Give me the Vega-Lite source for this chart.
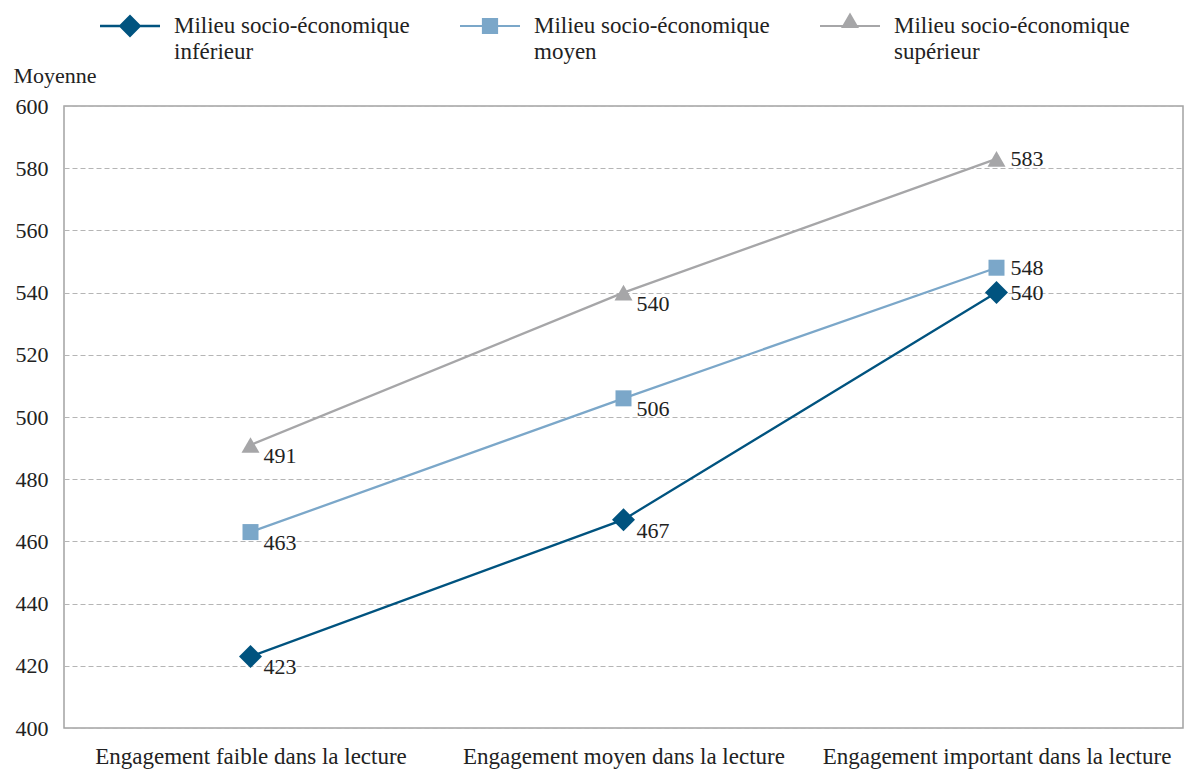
{
  "$schema": "https://vega.github.io/schema/vega-lite/v6.json",
  "width": 1119,
  "height": 622,
  "autosize": {"type": "none"},
  "padding": {"left": 64, "top": 106, "right": 6, "bottom": 43},
  "background": "white",
  "config": {
    "font": "Liberation Serif",
    "view": {"stroke": "#a3a3a3", "strokeWidth": 1.5},
    "style": {"guide-label": {"lineHeight": 26}},
    "legend": {"orient": "none", "direction": "horizontal", "columns": 3, "columnPadding": 50, "padding": 0, "labelFontSize": 23, "labelColor": "#222222", "labelOffset": 14, "labelLimit": 400, "labelBaseline": "middle", "symbolSize": 3600, "symbolStrokeWidth": 0, "symbolOpacity": 1}
  },
  "data": {
    "values": [
      {"engagement": "Engagement faible dans la lecture", "milieu": "Milieu socio-économique inférieur", "score": 423},
      {"engagement": "Engagement moyen dans la lecture", "milieu": "Milieu socio-économique inférieur", "score": 467},
      {"engagement": "Engagement important dans la lecture", "milieu": "Milieu socio-économique inférieur", "score": 540},
      {"engagement": "Engagement faible dans la lecture", "milieu": "Milieu socio-économique moyen", "score": 463},
      {"engagement": "Engagement moyen dans la lecture", "milieu": "Milieu socio-économique moyen", "score": 506},
      {"engagement": "Engagement important dans la lecture", "milieu": "Milieu socio-économique moyen", "score": 548},
      {"engagement": "Engagement faible dans la lecture", "milieu": "Milieu socio-économique supérieur", "score": 491},
      {"engagement": "Engagement moyen dans la lecture", "milieu": "Milieu socio-économique supérieur", "score": 540},
      {"engagement": "Engagement important dans la lecture", "milieu": "Milieu socio-économique supérieur", "score": 583}
    ]
  },
  "encoding": {
    "x": {
      "field": "engagement",
      "type": "nominal",
      "sort": ["Engagement faible dans la lecture", "Engagement moyen dans la lecture", "Engagement important dans la lecture"],
      "scale": {"type": "point", "padding": 0.5},
      "axis": {
        "title": null,
        "labelAngle": 0,
        "labelFontSize": 23,
        "labelColor": "#222222",
        "labelLimit": 500,
        "ticks": false,
        "domain": false,
        "grid": false,
        "labelPadding": 17
      }
    },
    "y": {
      "field": "score",
      "type": "quantitative",
      "scale": {"domain": [400, 600], "nice": false, "zero": false},
      "axis": {
        "values": [400, 420, 440, 460, 480, 500, 520, 540, 560, 580, 600],
        "title": "Moyenne",
        "titleAngle": 0,
        "titleX": -51,
        "titleY": -24,
        "titleAlign": "left",
        "titleBaseline": "alphabetic",
        "titleFontSize": 22,
        "titleFontWeight": "normal",
        "titleColor": "#222222",
        "labelFontSize": 22,
        "labelColor": "#222222",
        "ticks": false,
        "domain": false,
        "labelPadding": 16,
        "gridDash": [5, 3],
        "gridColor": "#b5b5b5",
        "gridWidth": 1
      }
    }
  },
  "layer": [
    {
      "mark": {"type": "line", "strokeWidth": 2.3},
      "encoding": {
        "stroke": {
          "field": "milieu",
          "type": "nominal",
          "scale": {
            "domain": ["Milieu socio-économique inférieur", "Milieu socio-économique moyen", "Milieu socio-économique supérieur"],
            "range": ["#00537f", "#7ba7c9", "#a6a6a8"]
          },
          "legend": null
        }
      }
    },
    {
      "mark": {"type": "point", "opacity": 0, "size": 3600, "filled": true},
      "encoding": {
        "color": {
          "field": "milieu",
          "type": "nominal",
          "scale": {
            "domain": ["Milieu socio-économique inférieur", "Milieu socio-économique moyen", "Milieu socio-économique supérieur"],
            "range": ["#00537f", "#7ba7c9", "#a6a6a8"]
          },
          "legend": {
            "title": null,
            "orient": "none",
            "legendX": 36,
            "legendY": -110,
            "direction": "horizontal",
            "columns": 3,
            "columnPadding": 50,
            "padding": 0,
            "symbolSize": 3600,
            "symbolStrokeWidth": 0,
            "symbolOpacity": 1,
            "labelFontSize": 23,
            "labelColor": "#222222",
            "labelOffset": 14,
            "labelLimit": 400,
            "labelBaseline": "middle",
            "labelExpr": "['Milieu socio-économique', replace(datum.label, 'Milieu socio-économique ', '')]"
          }
        },
        "shape": {
          "field": "milieu",
          "type": "nominal",
          "scale": {
            "domain": ["Milieu socio-économique inférieur", "Milieu socio-économique moyen", "Milieu socio-économique supérieur"],
            "range": [
              "M-1,-0.04 L1,-0.04 L1,0.04 L-1,0.04 Z M-0.38,0 L0,-0.38 L0.38,0 L0,0.38 Z",
              "M-1,-0.035 L1,-0.035 L1,0.035 L-1,0.035 Z M-0.27,-0.27 L0.27,-0.27 L0.27,0.27 L-0.27,0.27 Z",
              "M-1,-0.035 L1,-0.035 L1,0.035 L-1,0.035 Z M-0.3,0.07 L0,-0.45 L0.3,0.07 Z"
            ]
          },
          "legend": {
            "title": null,
            "orient": "none",
            "legendX": 36,
            "legendY": -110,
            "direction": "horizontal",
            "columns": 3,
            "columnPadding": 50,
            "padding": 0,
            "symbolSize": 3600,
            "symbolStrokeWidth": 0,
            "symbolOpacity": 1,
            "labelFontSize": 23,
            "labelColor": "#222222",
            "labelOffset": 14,
            "labelLimit": 400,
            "labelBaseline": "middle",
            "labelExpr": "['Milieu socio-économique', replace(datum.label, 'Milieu socio-économique ', '')]"
          }
        }
      }
    },
    {
      "transform": [{"filter": "datum.milieu == 'Milieu socio-économique inférieur'"}],
      "mark": {"type": "point", "filled": true, "opacity": 1, "shape": "diamond", "size": 529, "color": "#00537f"},
      "encoding": {}
    },
    {
      "transform": [{"filter": "datum.milieu == 'Milieu socio-économique moyen'"}],
      "mark": {"type": "point", "filled": true, "opacity": 1, "shape": "square", "size": 256, "color": "#7ba7c9"},
      "encoding": {}
    },
    {
      "transform": [{"filter": "datum.milieu == 'Milieu socio-économique supérieur'"}],
      "mark": {"type": "point", "filled": true, "opacity": 1, "shape": "triangle-up", "size": 324, "color": "#a6a6a8"},
      "encoding": {}
    },
    {
      "transform": [{"filter": "datum.engagement != 'Engagement important dans la lecture'"}],
      "mark": {"type": "text", "align": "left", "baseline": "middle", "dx": 13, "dy": 11, "fontSize": 22, "color": "#222222"},
      "encoding": {"text": {"field": "score", "type": "quantitative"}}
    },
    {
      "transform": [{"filter": "datum.engagement == 'Engagement important dans la lecture'"}],
      "mark": {"type": "text", "align": "left", "baseline": "middle", "dx": 14, "dy": 0, "fontSize": 22, "color": "#222222"},
      "encoding": {"text": {"field": "score", "type": "quantitative"}}
    }
  ],
  "resolve": {"legend": {"color": "independent", "shape": "independent"}}
}
